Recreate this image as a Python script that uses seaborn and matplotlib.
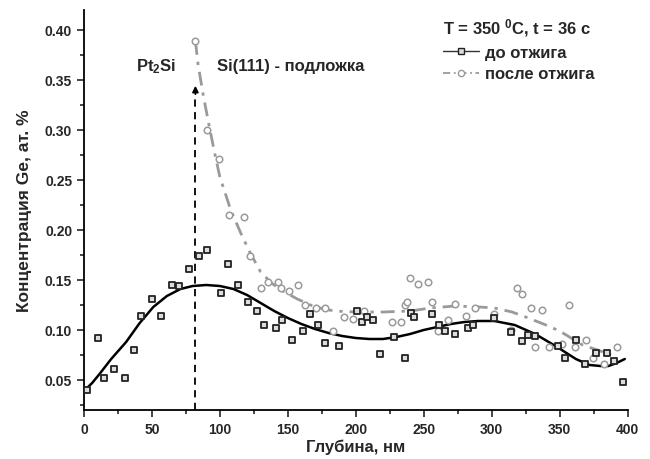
import matplotlib
matplotlib.use("Agg")
import matplotlib.pyplot as plt
from matplotlib.lines import Line2D
import seaborn as sns

# measured points: before annealing (squares)
before_x = [2, 10, 15, 22, 30, 37, 42, 50, 57, 65, 70, 77, 85, 90.6, 101, 106, 113, 121,
            127.5, 132.5, 141, 145.5, 153, 161, 166, 172.5, 177.5, 188, 201, 204.6, 208,
            212.5, 218, 228, 236, 241, 243, 256, 261, 266, 273, 282.6, 286, 302, 314, 322,
            327, 332, 349, 354, 362, 369, 377, 385, 390, 397]
before_y = [0.040, 0.092, 0.052, 0.061, 0.052, 0.080, 0.114, 0.131, 0.114, 0.145, 0.144,
            0.161, 0.174, 0.180, 0.137, 0.166, 0.145, 0.128, 0.119, 0.105, 0.102, 0.110,
            0.090, 0.099, 0.116, 0.105, 0.087, 0.084, 0.119, 0.108, 0.113, 0.110, 0.076,
            0.093, 0.072, 0.117, 0.113, 0.116, 0.105, 0.099, 0.096, 0.102, 0.105, 0.112,
            0.098, 0.089, 0.095, 0.094, 0.084, 0.072, 0.090, 0.066, 0.077, 0.077, 0.069,
            0.048]

# measured points: after annealing (circles)
after_x = [82, 90.6, 99, 107, 117.6, 122, 130, 135.7, 142.5, 144.8, 151, 157.5, 162.5,
           170.6, 177.5, 183, 191.5, 197.7, 206, 227, 233, 236, 238, 240, 246, 253, 256,
           260.5, 268, 273, 281, 288, 302, 314, 319, 322, 329, 332, 337, 342, 352, 357,
           361, 369.5, 374.5, 383, 392]
after_y = [0.389, 0.300, 0.271, 0.215, 0.213, 0.174, 0.142, 0.148, 0.148, 0.142, 0.139,
           0.145, 0.125, 0.122, 0.122, 0.099, 0.113, 0.111, 0.119, 0.108, 0.108, 0.125,
           0.128, 0.152, 0.146, 0.148, 0.128, 0.099, 0.110, 0.126, 0.114, 0.122, 0.116,
           0.100, 0.142, 0.136, 0.122, 0.083, 0.120, 0.083, 0.086, 0.125, 0.083, 0.090,
           0.072, 0.066, 0.083]

# fitted curves
fit_before_x = [0, 6, 12, 20, 31, 41, 51, 61, 71, 80, 90, 100, 110, 120, 130, 140, 150,
                160, 170, 180, 190, 200, 210, 220, 230, 240, 250, 260, 270, 280, 290, 302,
                317, 332, 347, 362, 372, 380, 386, 392, 398]
fit_before_y = [0.039, 0.047, 0.057, 0.071, 0.088, 0.107, 0.123, 0.134, 0.141, 0.144,
                0.145, 0.144, 0.141, 0.135, 0.127, 0.119, 0.112, 0.106, 0.101, 0.097,
                0.094, 0.092, 0.091, 0.091, 0.093, 0.096, 0.100, 0.103, 0.106, 0.108,
                0.109, 0.109, 0.105, 0.096, 0.084, 0.071, 0.065, 0.064, 0.064, 0.067,
                0.071]
fit_after_x = [82, 84, 88, 92, 96, 100, 108, 116, 122, 130, 138, 145, 157, 170, 184, 200,
               220, 240, 255, 273, 291, 302, 315, 325, 340, 350, 367, 380, 388]
fit_after_y = [0.389, 0.365, 0.333, 0.305, 0.278, 0.253, 0.220, 0.195, 0.178, 0.158,
               0.147, 0.140, 0.131, 0.123, 0.119, 0.118, 0.118, 0.119, 0.122, 0.124,
               0.123, 0.122, 0.118, 0.113, 0.105, 0.099, 0.085, 0.079, 0.075]

interface_x = 82
legend_title = r"T = 350 $^0$C, t = 36 c"

sns.set_style("ticks")
plt.rcParams["font.family"] = ["Liberation Sans", "DejaVu Sans"]
plt.rcParams["font.weight"] = "bold"
plt.rcParams["mathtext.fontset"] = "custom"
plt.rcParams["mathtext.rm"] = "Liberation Sans:bold"
plt.rcParams["mathtext.bf"] = "Liberation Sans:bold"
plt.rcParams["mathtext.default"] = "bf"

grey = "#9a9a9a"

fig = plt.figure(figsize=(6.5, 4.6), dpi=100)
ax = fig.add_axes([84 / 650, 1 - 411 / 460, 543.5 / 650, 400 / 460])

sns.lineplot(x=fit_after_x, y=fit_after_y, ax=ax, color=grey, lw=2,
             linestyle=(0, (5, 2.5, 1.2, 2.5)), estimator=None)
sns.lineplot(x=fit_before_x, y=fit_before_y, ax=ax, color="black", lw=1.8, estimator=None)
sns.scatterplot(x=after_x, y=after_y, ax=ax, marker="o", s=22, facecolor="white",
                edgecolor=grey, linewidth=1.1, zorder=3)
sns.scatterplot(x=before_x, y=before_y, ax=ax, marker="s", s=22, facecolor="#dddddd",
                edgecolor="#222222", linewidth=1.3, zorder=4)

# interface marker
ax.vlines(interface_x, 0.02, 0.335, colors="black", linestyles=(0, (4, 3)), lw=1.3)
ax.annotate("", xy=(interface_x, 0.347), xytext=(interface_x, 0.333),
            arrowprops=dict(arrowstyle="-|>", color="black", lw=1.2, mutation_scale=9))
ax.text(interface_x - 14, 0.364, "Pt$_2$Si", ha="right", va="center", fontsize=12,
        fontweight="bold")
ax.text(interface_x + 16, 0.364, "Si(111) - подложка", ha="left", va="center",
        fontsize=12, fontweight="bold")

ax.set_xlim(0, 400)
ax.set_ylim(0.02, 0.42)
ax.set_xticks(range(0, 401, 50))
ax.set_xticks(range(25, 400, 50), minor=True)
ax.set_yticks([0.05, 0.10, 0.15, 0.20, 0.25, 0.30, 0.35, 0.40])
ax.set_yticks([0.025, 0.075, 0.125, 0.175, 0.225, 0.275, 0.325, 0.375], minor=True)
ax.set_yticklabels([f"{v:.2f}" for v in ax.get_yticks()])
ax.tick_params(which="major", length=5, width=1.2, labelsize=10, direction="out")
ax.tick_params(which="minor", length=3, width=1.2, direction="out")
for s in ["left", "bottom"]:
    ax.spines[s].set_linewidth(1.3)
    ax.spines[s].set_color("black")
sns.despine(ax=ax)

ax.set_xlabel("Глубина, нм", fontsize=12, fontweight="bold", labelpad=2)
ax.set_ylabel("Концентрация Ge, ат. %", fontsize=12.5, fontweight="bold", labelpad=9)

handles = [
    Line2D([], [], color="#333333", lw=1.0, marker="s", markersize=4.5,
           markerfacecolor="#dddddd", markeredgecolor="#222222"),
    Line2D([], [], color=grey, lw=1.3, linestyle=(0, (4, 2, 1, 2)), marker="o",
           markersize=4.5, markerfacecolor="white", markeredgecolor=grey),
]
leg = ax.legend(handles, ["до отжига", "после отжига"], title=legend_title,
                loc="upper left", bbox_to_anchor=(0.633, 1.022), frameon=False,
                fontsize=12, title_fontsize=12, handlelength=2.15, handletextpad=0.36,
                labelspacing=0.4, alignment="left")
leg.get_title().set_fontweight("bold")
for t in leg.get_texts():
    t.set_fontweight("bold")

fig.savefig("out.png", dpi=100)
